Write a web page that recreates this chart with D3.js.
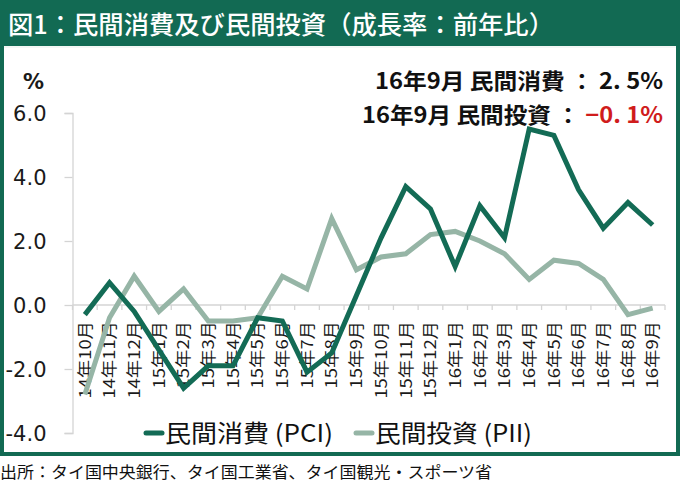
<!DOCTYPE html>
<html>
<head>
<meta charset="utf-8">
<script src="https://cdn.jsdelivr.net/npm/d3@7"></script>
<style>
  html, body { margin: 0; padding: 0; background: #fff; }
  svg { display: block; }
</style>
</head>
<body>
<svg id="chart" width="680" height="482"></svg>
<script>
// ---- data ----
const categories = ["14年10月","14年11月","14年12月","15年1月","15年2月","15年3月","15年4月","15年5月","15年6月","15年7月","15年8月","15年9月","15年10月","15年11月","15年12月","16年1月","16年2月","16年3月","16年4月","16年5月","16年6月","16年7月","16年8月","16年9月"];
const pciValues = [-0.3, 0.7, -0.2, -1.4, -2.6, -1.9, -1.9, -0.4, -0.5, -2.1, -1.5, 0.3, 2.1, 3.7, 3.0, 1.2, 3.1, 2.1, 5.5, 5.3, 3.6, 2.4, 3.2, 2.5];
const piiValues = [-2.8, -0.4, 0.9, -0.2, 0.5, -0.5, -0.5, -0.4, 0.9, 0.5, 2.7, 1.1, 1.5, 1.6, 2.2, 2.3, 2.0, 1.6, 0.8, 1.4, 1.3, 0.8, -0.3, -0.1];
const yTicks = [-4, -2, 0, 2, 4, 6];
const seriesNames = ["民間消費 (PCI)", "民間投資 (PII)"];
const titleText = "図1：民間消費及び民間投資（成長率：前年比）";
const sourceText = "出所：タイ国中央銀行、タイ国工業省、タイ国観光・スポーツ省";
const note1 = "16年9月 民間消費 ： 2. 5%";
const note2a = "16年9月 民間投資 ： ";
const note2b = "−0. 1%";

// ---- styles ----
const GREEN = "#126a53";
const DARK = "#136b55";
const LIGHT = "#96b5a6";
const AXIS = "#d4d4d4";
const JP = "'Noto Sans CJK JP', 'Noto Sans', sans-serif";

const svg = d3.select("#chart");

// frame
svg.append("rect").attr("x", 0).attr("y", 0).attr("width", 680).attr("height", 456).attr("fill", GREEN);
svg.append("rect").attr("x", 4).attr("y", 46).attr("width", 672).attr("height", 406).attr("fill", "#f4f7f5");
svg.append("rect").attr("x", 4).attr("y", 48).attr("width", 672).attr("height", 404).attr("fill", "#fff");

// title
svg.append("text").attr("x", 8).attr("y", 34)
  .attr("font-family", JP).attr("font-size", 25).attr("font-weight", 500)
  .attr("fill", "#fff").attr("textLength", 546).attr("lengthAdjust", "spacingAndGlyphs")
  .text(titleText);

// footer
svg.append("text").attr("x", 0).attr("y", 478)
  .attr("font-family", JP).attr("font-size", 16)
  .attr("fill", "#111").attr("textLength", 492).attr("lengthAdjust", "spacingAndGlyphs")
  .text(sourceText);

// scales
const x = d3.scaleBand().domain(categories).range([72.5, 665]).padding(0);
const y = d3.scaleLinear().domain([-4, 6]).range([433, 113]);
const cx = d => x(d) + x.bandwidth() / 2;

// y axis
const yAxis = svg.append("g").attr("transform", "translate(72.5,0)")
  .call(d3.axisLeft(y).tickValues(yTicks).tickSize(8).tickPadding(18).tickFormat(d => d.toFixed(1)));
yAxis.select(".domain").attr("stroke", AXIS).attr("stroke-width", 1.3);
yAxis.selectAll(".tick line").attr("stroke", AXIS).attr("stroke-width", 1.3);
yAxis.selectAll(".tick text").attr("font-family", "'DejaVu Sans', sans-serif").attr("font-size", 21)
  .attr("fill", "#1a1a1a").attr("dy", "0.36em");

// % label
svg.append("text").attr("x", 23).attr("y", 89)
  .attr("font-family", "'DejaVu Sans', sans-serif").attr("font-size", 21).attr("font-weight", "bold")
  .attr("fill", "#1a1a1a").text("%");

// x axis at zero
const bounds = categories.map(c => x(c)).concat([x(categories[categories.length - 1]) + x.bandwidth()]);
const xg = svg.append("g");
xg.append("line").attr("x1", x.range()[0]).attr("x2", x.range()[1]).attr("y1", y(0)).attr("y2", y(0))
  .attr("stroke", AXIS).attr("stroke-width", 1.3);
xg.selectAll("line.tk").data(bounds).join("line").attr("class", "tk")
  .attr("x1", d => d).attr("x2", d => d).attr("y1", y(0)).attr("y2", y(0) + 5)
  .attr("stroke", AXIS).attr("stroke-width", 1.3);
xg.selectAll("text").data(categories).join("text")
  .attr("transform", d => `translate(${cx(d)},${y(0) + 16}) rotate(-90) scale(1.15,1)`)
  .attr("text-anchor", "end").attr("dy", "0.36em")
  .attr("font-family", JP).attr("font-size", 16).attr("fill", "#1a1a1a")
  .text(d => d);

// lines
const line = d3.line().x((d, i) => cx(categories[i])).y(d => y(d));
svg.append("path").datum(piiValues).attr("d", line)
  .attr("fill", "none").attr("stroke", LIGHT).attr("stroke-width", 5).attr("stroke-linejoin", "miter");
svg.append("path").datum(pciValues).attr("d", line)
  .attr("fill", "none").attr("stroke", DARK).attr("stroke-width", 5).attr("stroke-linejoin", "miter");

// notes
svg.append("text").attr("x", 375).attr("y", 89)
  .attr("font-family", JP).attr("font-size", 22).attr("font-weight", "bold").attr("fill", "#111")
  .attr("textLength", 288).attr("lengthAdjust", "spacingAndGlyphs")
  .text(note1);
const n2 = svg.append("text").attr("x", 362).attr("y", 123)
  .attr("font-family", JP).attr("font-size", 22).attr("font-weight", "bold").attr("fill", "#111")
  .attr("textLength", 301).attr("lengthAdjust", "spacingAndGlyphs");
n2.append("tspan").text(note2a);
n2.append("tspan").attr("fill", "#d01c1c").text(note2b);

// legend
const legendItems = [
  { name: seriesNames[0], color: DARK, x: 146, len: 168 },
  { name: seriesNames[1], color: LIGHT, x: 356, len: 157 }
];
const lg = svg.append("g");
legendItems.forEach(it => {
  lg.append("line").attr("x1", it.x).attr("x2", it.x + 16).attr("y1", 433).attr("y2", 433)
    .attr("stroke", it.color).attr("stroke-width", 5).attr("stroke-linecap", "round");
  lg.append("text").attr("x", it.x + 19).attr("y", 442)
    .attr("font-family", JP).attr("font-size", 24).attr("fill", "#111")
    .attr("textLength", it.len).attr("lengthAdjust", "spacingAndGlyphs")
    .text(it.name);
});
</script>
</body>
</html>
